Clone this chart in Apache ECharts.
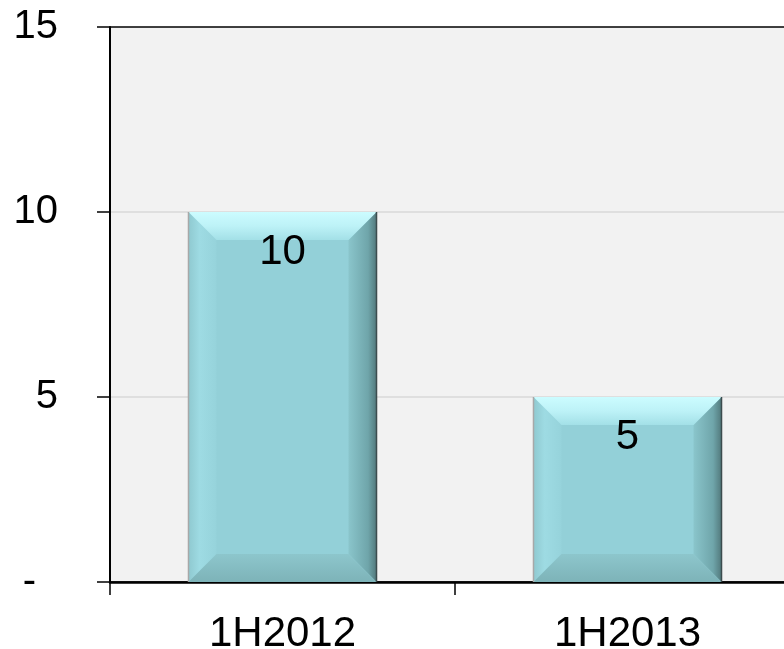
<!DOCTYPE html>
<html>
<head>
<meta charset="utf-8">
<script src="https://cdn.jsdelivr.net/npm/echarts@6/dist/echarts.min.js"></script>
<style>
  html, body { margin: 0; padding: 0; background: #fff; }
  #chart { width: 784px; height: 649px; }
</style>
</head>
<body>
<div id="chart"></div>
<script>
// data
let categories = ['1H2012', '1H2013'];
let values     = [10, 5];
let yTicks     = [0, 5, 10, 15];

let FONT = '"Liberation Sans", Arial, sans-serif';

let myChart = echarts.init(document.getElementById('chart'));

// bevelled bar, drawn from the axis coordinates
function renderBevel(params, api) {
    let idx = api.value(0), val = api.value(1);
    let top = api.coord([idx, val]);
    let base = api.coord([idx, 0]);
    let w = api.size([1, 0])[0] * 0.545;
    let x0 = top[0] - w / 2, x1 = top[0] + w / 2;
    let y0 = top[1], y1 = base[1];
    let b = Math.min(28, (y1 - y0) / 2);
    let lg = (a, c, list) => new echarts.graphic.LinearGradient(a[0], a[1], c[0], c[1], list);
    return {
        type: 'group',
        children: [
            { type: 'rect', shape: { x: x0, y: y0, width: w, height: y1 - y0 },
              style: { fill: '#93d0d8' } },
            // left face
            { type: 'polygon', shape: { points: [[x0, y0], [x0 + b, y0 + b], [x0 + b, y1 - b], [x0, y1]] },
              style: { fill: lg([0, 0], [1, 0], [{ offset: 0, color: '#8fc9d0' }, { offset: 0.4, color: '#9edbe3' }, { offset: 1, color: '#96d3db' }]) } },
            // right face
            { type: 'polygon', shape: { points: [[x1, y0], [x1 - b, y0 + b], [x1 - b, y1 - b], [x1, y1]] },
              style: { fill: lg([0, 0], [1, 0], [{ offset: 0, color: '#8ac5cb' }, { offset: 0.7, color: '#6fa5aa' }, { offset: 1, color: '#52797c' }]) } },
            // bottom face
            { type: 'polygon', shape: { points: [[x0, y1], [x0 + b, y1 - b], [x1 - b, y1 - b], [x1, y1]] },
              style: { fill: lg([0, 0], [0, 1], [{ offset: 0, color: '#8dc6cc' }, { offset: 1, color: '#7db3b8' }]) } },
            // top face
            { type: 'polygon', shape: { points: [[x0, y0], [x1, y0], [x1 - b, y0 + b], [x0 + b, y0 + b]] },
              style: { fill: lg([0, 0], [0, 1], [{ offset: 0, color: '#ccfcff' }, { offset: 0.5, color: '#bdf2f7' }, { offset: 1, color: '#a3e0e7' }]) } },
            { type: 'line', shape: { x1: x0, y1: y0, x2: x0, y2: y1 },
              style: { stroke: '#a8a8a8', lineWidth: 1.5 } },
            { type: 'line', shape: { x1: x1, y1: y0, x2: x1, y2: y1 },
              style: { stroke: '#3c4c4e', lineWidth: 1.5 } },
            { type: 'text', x: top[0], y: y0 + 40,
              style: { text: String(val), fill: '#000', font: '42px ' + FONT, align: 'center', verticalAlign: 'middle' } }
        ]
    };
}

myChart.setOption({
    animation: false,
    grid: {
        left: 110, top: 27, width: 690, height: 555,
        outerBoundsMode: 'none', containLabel: false,
        show: true, backgroundColor: '#f2f2f2', borderWidth: 0
    },
    xAxis: {
        type: 'category',
        data: categories,
        boundaryGap: true,
        axisLine: { lineStyle: { color: '#000', width: 2.5 } },
        axisTick: { show: true, alignWithLabel: false, length: 13, lineStyle: { color: '#000', width: 1.5 } },
        axisLabel: { color: '#000', fontSize: 42, fontFamily: FONT, margin: 31 },
        splitLine: { show: false }
    },
    yAxis: {
        type: 'value',
        min: yTicks[0], max: yTicks[yTicks.length - 1], interval: 5,
        axisLine: { show: true, lineStyle: { color: '#000', width: 2 } },
        axisTick: { show: true, length: 13, lineStyle: { color: '#000', width: 1.5 } },
        axisLabel: {
            color: '#000', fontSize: 40, fontFamily: FONT, margin: 52,
            formatter: (v) => v === 0 ? '{d|-}' : String(v),
            rich: { d: { fontSize: 40, fontFamily: FONT, padding: [0, 22, 0, 0] } }
        },
        splitLine: { show: true, lineStyle: { color: ['#000', '#d9d9d9', '#d9d9d9', '#000'], width: 1.5 } }
    },
    series: [{
        type: 'custom',
        renderItem: renderBevel,
        encode: { x: 0, y: 1 },
        data: values.map((v, i) => [i, v])
    }]
});
</script>
</body>
</html>
